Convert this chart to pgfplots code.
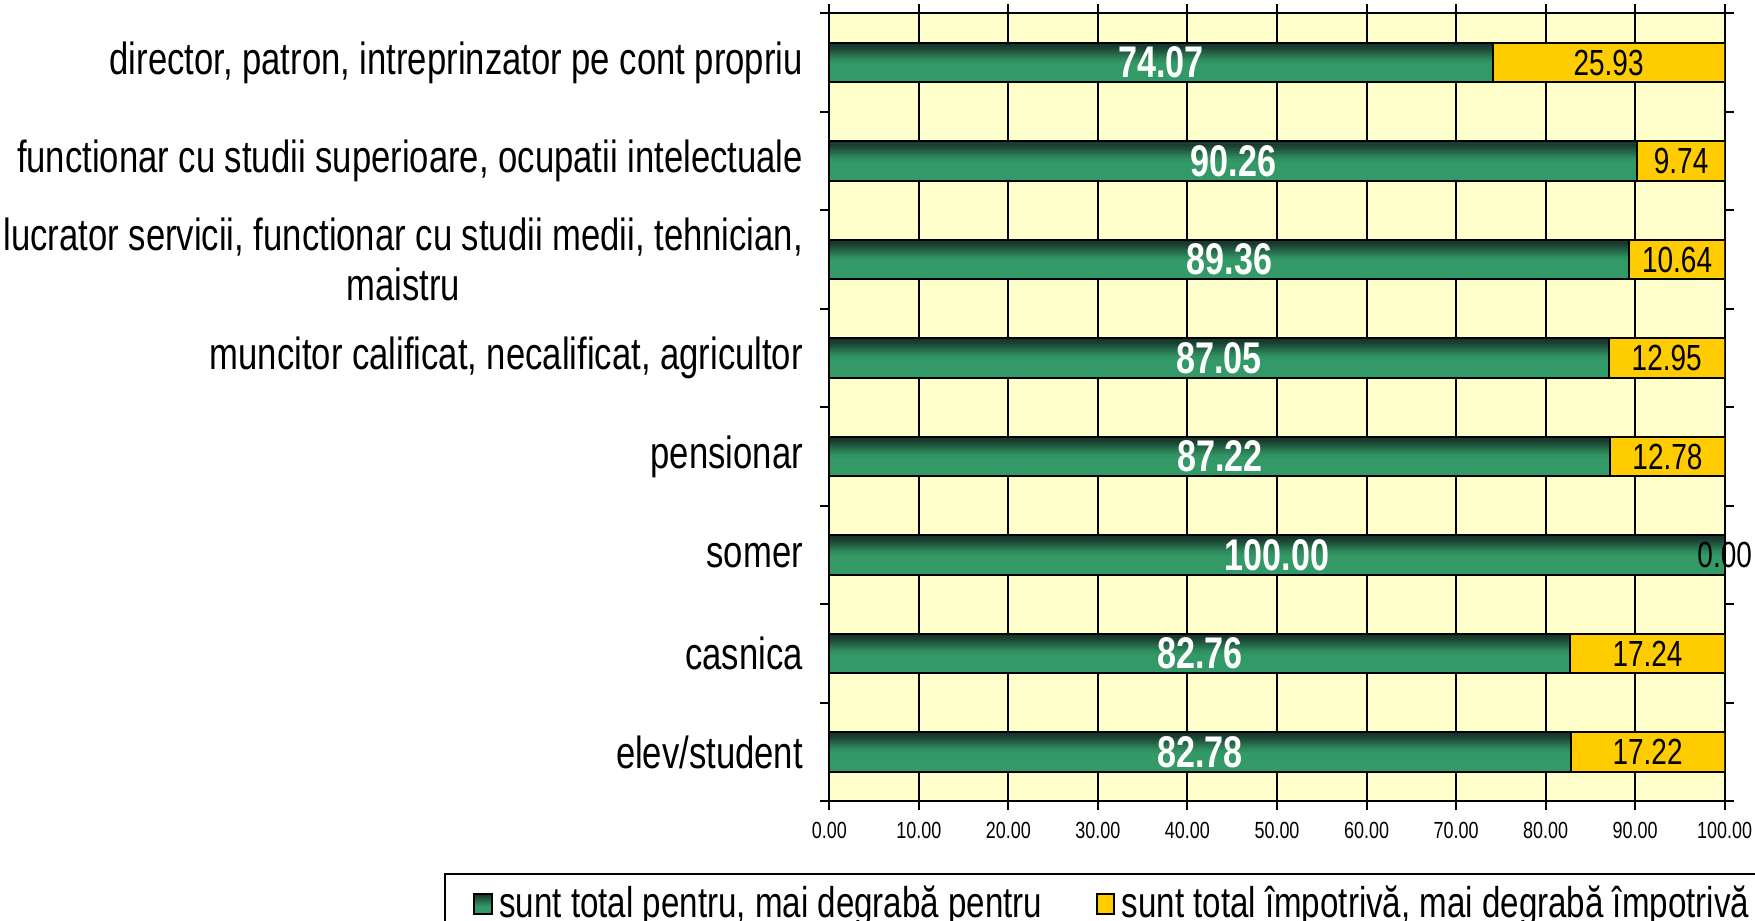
\documentclass[border=0pt]{standalone}
\usepackage{fontspec}
\setmainfont{Liberation Sans}[FakeStretch=0.77]
\usepackage{pgfplots}
\usepackage{pgfplotstable}
\pgfplotsset{compat=1.18}
\definecolor{bgy}{HTML}{FFFFCC}
\definecolor{gTop}{HTML}{17352A}
\definecolor{gBot}{HTML}{339966}
\definecolor{ylw}{HTML}{FFCC00}
\pgfdeclareverticalshading{greenbar}{100bp}{color(0bp)=(gBot); color(25bp)=(gBot); color(46bp)=(gBot); color(75bp)=(gTop); color(100bp)=(gTop)}

\pgfplotstableread{
y g r
1 74.07 25.93
2 90.26 9.74
3 89.36 10.64
4 87.05 12.95
5 87.22 12.78
6 100.00 0.00
7 82.76 17.24
8 82.78 17.22
}\data

\pgfplotstableread{
y gx gl rx rl
1 37.035 74.07 87.035 25.93
2 45.13 90.26 95.13 9.74
3 44.68 89.36 94.68 10.64
4 43.525 87.05 93.525 12.95
5 43.61 87.22 93.61 12.78
6 50.00 100.00 100.00 0.00
7 41.38 82.76 91.38 17.24
8 41.39 82.78 91.39 17.22
}\labels

\newcommand\strip[2]{\addplot[xbar, bar width=0.023, bar shift=#1, draw=none, fill=gTop!#2!gBot, forget plot] table[x=g, y=y] {\data};}

\begin{document}
\begin{tikzpicture}
\path[use as bounding box] (0,0) rectangle (526.5pt,-276pt);
\begin{axis}[
  at={(248.8pt,-240.4pt)}, anchor=south west,
  scale only axis, width=268.6pt, height=236.4pt,
  xbar stacked, bar width=0.4,
  xmin=0, xmax=100, ymin=0.5, ymax=8.5, y dir=reverse,
  axis background/.style={fill=bgy},
  axis line style={black, line width=0.6pt},
  xtick={0,10,...,100},
  xmajorgrids, major grid style={black, line width=0.6pt},
  scaled x ticks=false,
  xticklabel style={font=\fontsize{7}{8}\selectfont, /pgf/number format/.cd, fixed, fixed zerofill, precision=2, assume math mode=true},
  ytick={1,...,8},
  yticklabels={{director, patron, intreprinzator pe cont propriu},
    {functionar cu studii superioare, ocupatii intelectuale},
    {lucrator servicii, functionar cu studii medii, tehnician,\\ maistru},
    {muncitor calificat, necalificat, agricultor},
    {pensionar},{somer},{casnica},{elev/student}},
  yticklabel style={font=\fontsize{13.5}{15}\selectfont, align=center, xshift=-1.7pt},
  minor ytick={0.5,1.5,...,8.5},
  tick align=outside,
  major tick length=2.7pt, minor tick length=2.7pt,
  major y tick style={draw=none},
  tick style={black, line width=0.6pt},
  legend columns=2,
  legend cell align=left,
  legend image code/.code={\draw[#1,draw=black,line width=0.6pt] (0pt,-3pt) rectangle (5.2pt,3pt);},
  legend style={at={(-0.430,-0.0914)}, anchor=north west, draw=black, line width=0.6pt,
    font=\fontsize{12.9}{14}\selectfont, inner xsep=8.4pt, inner ysep=1.5pt,
    /tikz/every even column/.append style={column sep=14pt}},
]
\addplot[draw=black, line width=0.6pt, fill=gBot,
  legend image code/.code={\draw[draw=black,line width=0.6pt,shading=greenbar] (0pt,-3pt) rectangle (5.2pt,3pt);}]
  table[x=g, y=y] {\data};
\addplot[draw=black, line width=0.6pt, fill=ylw] table[x=r, y=y] {\data};
\legend{{sunt total pentru, mai degrabă pentru}, {sunt total împotrivă, mai degrabă împotrivă}}
\end{axis}
\begin{axis}[
  at={(248.8pt,-240.4pt)}, anchor=south west,
  scale only axis, width=268.6pt, height=236.4pt,
  xmin=0, xmax=100, ymin=0.5, ymax=8.5, y dir=reverse,
  hide axis, clip=false,
]
\strip{-0.19}{100}
\strip{-0.17}{96}
\strip{-0.15}{88}
\strip{-0.13}{77}
\strip{-0.11}{64}
\strip{-0.09}{51}
\strip{-0.07}{38}
\strip{-0.05}{26}
\strip{-0.03}{15}
\strip{-0.01}{6}
\addplot[xbar, bar width=0.4, draw=black, line width=0.6pt, fill=none, forget plot] table[x=g, y=y] {\data};
\addplot[draw=none, mark=none, nodes near coords, point meta=explicit symbolic,
  every node near coord/.append style={anchor=center, text=white, font=\fontsize{13.3}{15}\selectfont\bfseries}]
  table[x=gx, y=y, meta=gl] {\labels};
\addplot[draw=none, mark=none, nodes near coords, point meta=explicit symbolic,
  every node near coord/.append style={anchor=center, text=black, font=\fontsize{10.9}{12}\selectfont}]
  table[x=rx, y=y, meta=rl] {\labels};
\end{axis}
\end{tikzpicture}
\end{document}
